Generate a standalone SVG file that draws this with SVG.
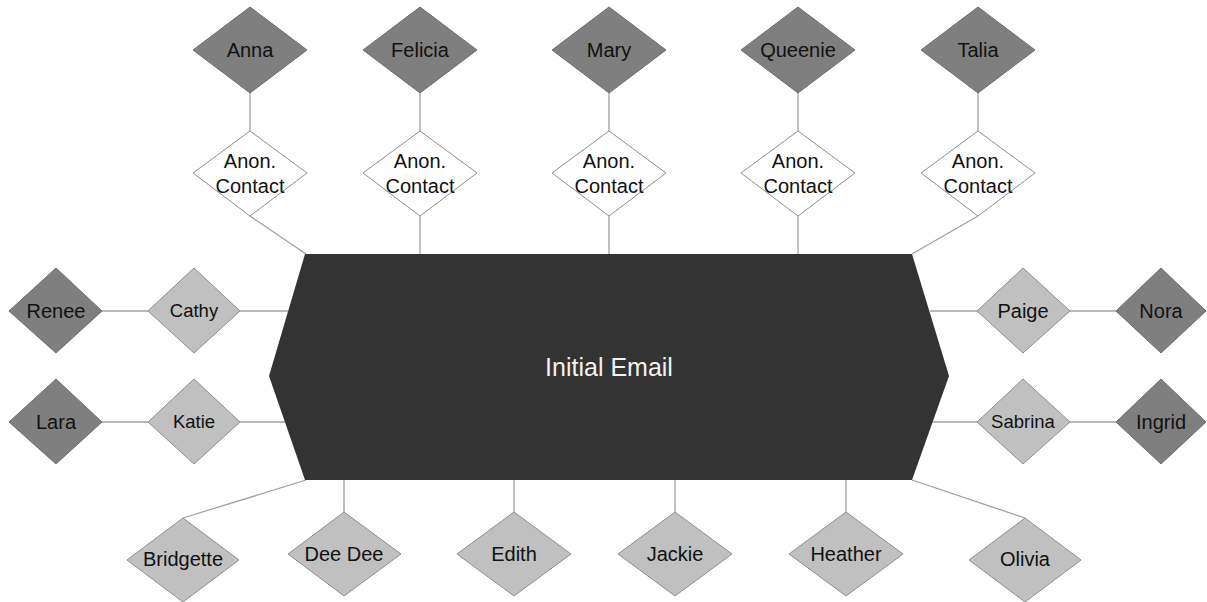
<svg xmlns="http://www.w3.org/2000/svg" width="1207" height="602" viewBox="0 0 1207 602">
<style>
.dk{fill:#7f7f7f;stroke:#6e6e6e;stroke-width:1}
.lt{fill:#c0c0c0;stroke:#8e8e8e;stroke-width:1}
.wh{fill:#ffffff;stroke:#8e8e8e;stroke-width:1}
.t{font-family:"Liberation Sans",Arial,sans-serif;font-size:20px;fill:#111;text-anchor:middle}
.ts{font-family:"Liberation Sans",Arial,sans-serif;font-size:18.5px;fill:#111;text-anchor:middle}
.c line{stroke:#a0a0a0;stroke-width:1.3}
</style>
<rect width="1207" height="602" fill="#fff"/>
<g class="c" id="connectors">
<line x1="250" y1="93" x2="250" y2="131"/>
<line x1="420" y1="93" x2="420" y2="131"/>
<line x1="609" y1="93" x2="609" y2="131"/>
<line x1="798" y1="93" x2="798" y2="131"/>
<line x1="978" y1="93" x2="978" y2="131"/>
<line x1="250" y1="216" x2="306" y2="254"/>
<line x1="420" y1="216" x2="420" y2="254"/>
<line x1="609" y1="216" x2="609" y2="254"/>
<line x1="798" y1="216" x2="798" y2="254"/>
<line x1="978" y1="216" x2="912" y2="254"/>
<line x1="102" y1="311" x2="148" y2="311"/>
<line x1="240" y1="311" x2="288" y2="311"/>
<line x1="102" y1="422" x2="148" y2="422"/>
<line x1="240" y1="422" x2="288" y2="422"/>
<line x1="930" y1="311" x2="977" y2="311"/>
<line x1="1070" y1="311" x2="1116" y2="311"/>
<line x1="932" y1="422" x2="977" y2="422"/>
<line x1="1070" y1="422" x2="1116" y2="422"/>
<line x1="306" y1="480" x2="183" y2="518"/>
<line x1="344" y1="480" x2="344" y2="512"/>
<line x1="514" y1="480" x2="514" y2="512"/>
<line x1="675" y1="480" x2="675" y2="512"/>
<line x1="846" y1="480" x2="846" y2="512"/>
<line x1="912" y1="480" x2="1025" y2="518"/>
</g>
<g id="initial-email">
<polygon points="305,254 912,254 949,376 912,480 305,480 269,376" fill="#333333"/>
<text x="609" y="376" font-family="'Liberation Sans',Arial,sans-serif" font-size="25" fill="#f2f2f2" text-anchor="middle">Initial Email</text>
</g>
<g id="anna"><polygon class="dk" points="250,7 307,50 250,93 193,50"/><text class="t" x="250" y="57">Anna</text></g>
<g id="felicia"><polygon class="dk" points="420,7 477,50 420,93 363,50"/><text class="t" x="420" y="57">Felicia</text></g>
<g id="mary"><polygon class="dk" points="609,7 666,50 609,93 552,50"/><text class="t" x="609" y="57">Mary</text></g>
<g id="queenie"><polygon class="dk" points="798,7 855,50 798,93 741,50"/><text class="t" x="798" y="57">Queenie</text></g>
<g id="talia"><polygon class="dk" points="978,7 1035,50 978,93 921,50"/><text class="t" x="978" y="57">Talia</text></g>
<g id="anon1"><polygon class="wh" points="250,131 307,173 250,216 193,173"/><text class="t" x="250" y="168">Anon.</text><text class="t" x="250" y="193">Contact</text></g>
<g id="anon2"><polygon class="wh" points="420,131 477,173 420,216 363,173"/><text class="t" x="420" y="168">Anon.</text><text class="t" x="420" y="193">Contact</text></g>
<g id="anon3"><polygon class="wh" points="609,131 666,173 609,216 552,173"/><text class="t" x="609" y="168">Anon.</text><text class="t" x="609" y="193">Contact</text></g>
<g id="anon4"><polygon class="wh" points="798,131 855,173 798,216 741,173"/><text class="t" x="798" y="168">Anon.</text><text class="t" x="798" y="193">Contact</text></g>
<g id="anon5"><polygon class="wh" points="978,131 1035,173 978,216 921,173"/><text class="t" x="978" y="168">Anon.</text><text class="t" x="978" y="193">Contact</text></g>
<g id="renee"><polygon class="dk" points="56,268 102,311 56,353 9,311"/><text class="t" x="56" y="318">Renee</text></g>
<g id="cathy"><polygon class="lt" points="194,268 240,311 194,353 148,311"/><text class="ts" x="194" y="317">Cathy</text></g>
<g id="lara"><polygon class="dk" points="56,379 102,422 56,464 9,422"/><text class="t" x="56" y="429">Lara</text></g>
<g id="katie"><polygon class="lt" points="194,379 240,422 194,464 148,422"/><text class="ts" x="194" y="428">Katie</text></g>
<g id="paige"><polygon class="lt" points="1023,268 1070,311 1023,353 977,311"/><text class="t" x="1023" y="318">Paige</text></g>
<g id="nora"><polygon class="dk" points="1161,268 1206,311 1161,353 1116,311"/><text class="t" x="1161" y="318">Nora</text></g>
<g id="sabrina"><polygon class="lt" points="1023,379 1070,422 1023,464 977,422"/><text class="ts" x="1023" y="428">Sabrina</text></g>
<g id="ingrid"><polygon class="dk" points="1161,379 1206,422 1161,464 1116,422"/><text class="t" x="1161" y="429">Ingrid</text></g>
<g id="bridgette"><polygon class="lt" points="183,518 239,560 183,602 127,560"/><text class="t" x="183" y="566">Bridgette</text></g>
<g id="deedee"><polygon class="lt" points="344,512 401,554 344,596 288,554"/><text class="t" x="344" y="561">Dee Dee</text></g>
<g id="edith"><polygon class="lt" points="514,512 571,554 514,596 457,554"/><text class="t" x="514" y="561">Edith</text></g>
<g id="jackie"><polygon class="lt" points="675,512 732,554 675,596 618,554"/><text class="t" x="675" y="561">Jackie</text></g>
<g id="heather"><polygon class="lt" points="846,512 903,554 846,596 789,554"/><text class="t" x="846" y="561">Heather</text></g>
<g id="olivia"><polygon class="lt" points="1025,518 1081,560 1025,602 969,560"/><text class="t" x="1025" y="566">Olivia</text></g>
</svg>
